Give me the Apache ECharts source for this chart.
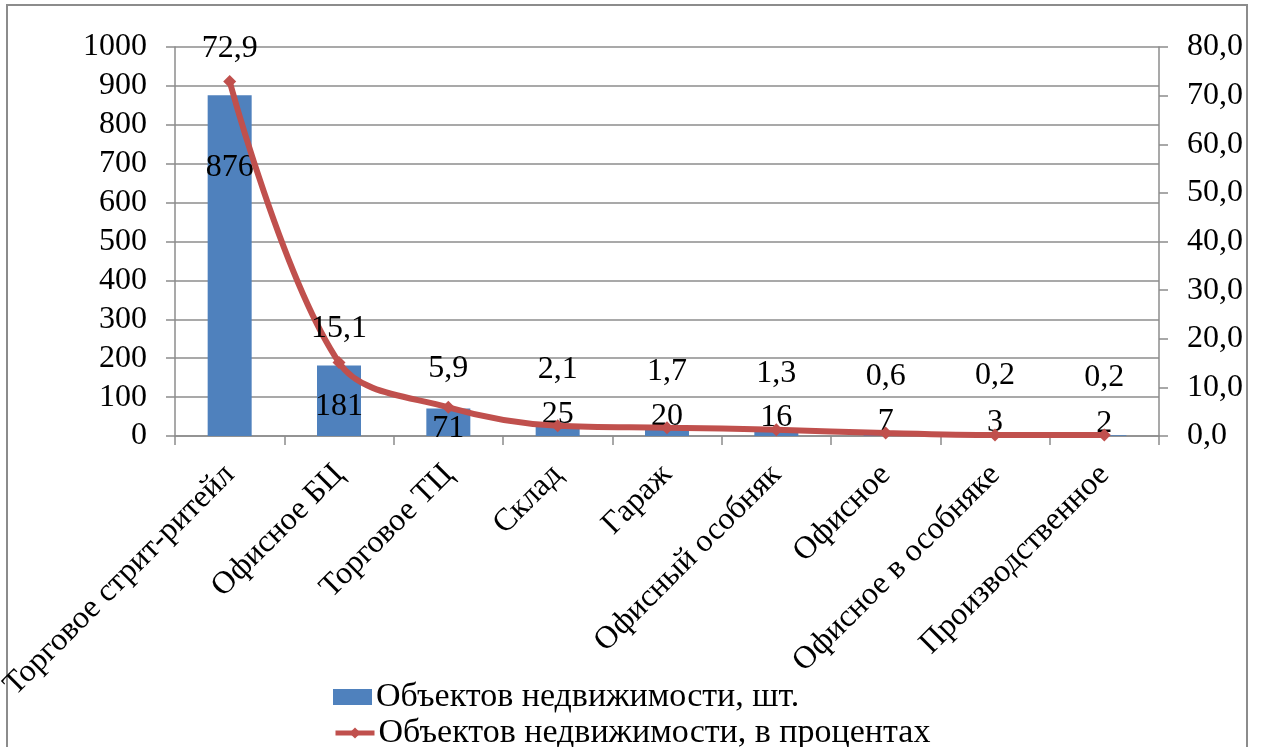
<!DOCTYPE html>
<html>
<head>
<meta charset="utf-8">
<script src="https://cdn.jsdelivr.net/npm/echarts@6/dist/echarts.min.js"></script>
<style>
  html, body { margin: 0; padding: 0; background: #fff; }
  #chart { width: 1263px; height: 747px; }
</style>
</head>
<body>
<div id="chart"></div>
<script>
// Property types
const categories = [
  'Торговое стрит-ритейл', 'Офисное БЦ', 'Торговое ТЦ', 'Склад', 'Гараж',
  'Офисный особняк', 'Офисное', 'Офисное в особняке', 'Производственное'
];
// Number of objects per type
const countValues = [876, 181, 71, 25, 20, 16, 7, 3, 2];
// Share of objects per type, percent
const percentValues = [72.9, 15.1, 5.9, 2.1, 1.7, 1.3, 0.6, 0.2, 0.2];

const seriesNames = ['Объектов недвижимости, шт.', 'Объектов недвижимости, в процентах'];

const FONT = '"Liberation Serif", "Times New Roman", serif';
const FS = 32;
const LEGEND_FS = 34;
const GRID_COLOR = '#8c8c8c';

const fmtComma = (v, d) => v.toFixed(d).replace('.', ',');

// Count labels: tall bars carry the label inside, short ones sit just above
const barData = countValues.map(function (v) {
  let label;
  if (v > 500) label = { position: 'insideTop', distance: 56 };
  else if (v > 100) label = { position: 'insideTop', distance: 25 };
  else if (v > 50) label = { position: 'insideTop', distance: 4 };
  else label = { position: 'top', distance: -4 };
  return { value: v, label: label };
});

// Percent labels are lifted clear of the count labels on the low points
const percentLabelGap = [10, 11, 16, 34, 34, 34, 34, 37, 35];
const lineData = percentValues.map(function (v, i) {
  return { value: v, label: { distance: percentLabelGap[i] } };
});

const legendText = { fontFamily: FONT, fontSize: LEGEND_FS, lineHeight: 36, color: '#000', padding: [0, 0, 0, -1] };

const chart = echarts.init(document.getElementById('chart'));
chart.setOption({
  backgroundColor: '#fff',
  animation: false,
  textStyle: { fontFamily: FONT },
  graphic: [{
    type: 'rect',
    shape: { x: 7, y: 5, width: 1240, height: 745 },
    style: { fill: 'none', stroke: '#8c8c8c', lineWidth: 2 },
    silent: true,
    z: -1
  }],
  grid: { left: 175, right: 104, top: 47, bottom: 311, outerBoundsMode: 'none', containLabel: false },
  legend: [
    {
      left: 333, top: 679, padding: 0,
      itemWidth: 39, itemHeight: 16,
      textStyle: legendText,
      data: [{ name: seriesNames[0], icon: 'rect' }]
    },
    {
      left: 333, top: 715, padding: 0,
      itemWidth: 39, itemHeight: 14,
      textStyle: legendText,
      lineStyle: { width: 5 },
      data: [{ name: seriesNames[1] }]
    }
  ],
  xAxis: {
    type: 'category',
    data: categories,
    axisLine: { lineStyle: { color: GRID_COLOR, width: 1.5 } },
    axisTick: { show: true, length: 9, lineStyle: { color: GRID_COLOR, width: 1.5 } },
    axisLabel: {
      rotate: 45,
      interval: 0,
      margin: 34,
      color: '#000',
      fontFamily: FONT,
      fontSize: FS
    }
  },
  yAxis: [
    {
      type: 'value',
      min: 0, max: 1000, interval: 100,
      axisLine: { show: true, lineStyle: { color: GRID_COLOR, width: 1.5 } },
      axisTick: { show: true, length: 9, lineStyle: { color: GRID_COLOR, width: 1.5 } },
      splitLine: { show: true, lineStyle: { color: GRID_COLOR, width: 1.5 } },
      axisLabel: {
        margin: 28, color: '#000', fontFamily: FONT, fontSize: FS,
        formatter: function (v) { return String(v); }
      }
    },
    {
      type: 'value',
      min: 0, max: 80, interval: 10,
      position: 'right',
      axisLine: { show: true, lineStyle: { color: GRID_COLOR, width: 1.5 } },
      axisTick: { show: true, length: 9, lineStyle: { color: GRID_COLOR, width: 1.5 } },
      splitLine: { show: false },
      axisLabel: {
        margin: 28, color: '#000', fontFamily: FONT, fontSize: FS,
        formatter: function (v) { return fmtComma(v, 1); }
      }
    }
  ],
  series: [
    {
      name: seriesNames[0],
      type: 'bar',
      yAxisIndex: 0,
      barWidth: 44,
      data: barData,
      itemStyle: { color: '#4F81BD' },
      label: {
        show: true,
        color: '#000',
        fontFamily: FONT,
        fontSize: FS
      }
    },
    {
      name: seriesNames[1],
      type: 'line',
      yAxisIndex: 1,
      smooth: 0.35,
      data: lineData,
      symbol: 'diamond',
      symbolSize: 13,
      lineStyle: { color: '#C0504D', width: 6 },
      itemStyle: { color: '#C0504D' },
      label: {
        show: true,
        position: 'top',
        color: '#000',
        fontFamily: FONT,
        fontSize: FS,
        formatter: function (p) { return fmtComma(p.value, 1); }
      },
      z: 3
    }
  ]
});
</script>
</body>
</html>
